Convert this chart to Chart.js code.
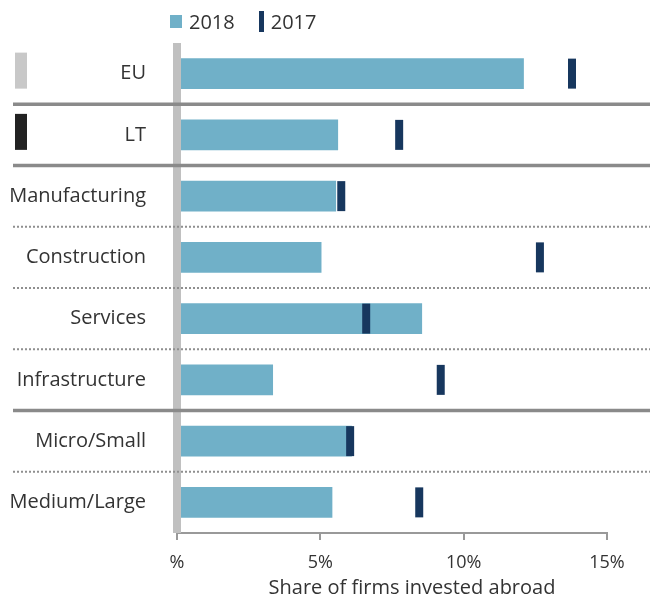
<!DOCTYPE html>
<html>
<head>
<meta charset="utf-8">
<script src="https://cdn.jsdelivr.net/npm/chart.js@4.4.1/dist/chart.umd.min.js"></script>
<style>
  html, body { margin: 0; padding: 0; background: #fff; }
  #wrap { position: relative; width: 650px; height: 601px; }
  #legend {
    position: absolute; top: 0; left: 0; height: 42px; padding-left: 170px;
    display: flex; align-items: center;
    font-family: 'Open Sans', sans-serif; font-size: 20px; color: #333;
  }
  .lg-item { display: flex; align-items: center; margin-right: 24px; }
  .lg-box { display: inline-block; margin-right: 7px; }
  #xtitle {
    position: absolute; top: 575px; left: 412px; transform: translateX(-50%);
    white-space: nowrap; line-height: 24px;
    font-family: 'Open Sans', sans-serif; font-size: 20px; color: #333;
  }
</style>
</head>
<body>
<div id="wrap">
  <div id="legend"></div>
  <canvas id="chart" width="650" height="601"></canvas>
  <div id="xtitle"></div>
</div>
<script>
// ── DATA ──────────────────────────────────────────────────────────────────────

var categories = ['EU', 'LT', 'Manufacturing', 'Construction', 'Services', 'Infrastructure', 'Micro/Small', 'Medium/Large'];
var share2018 = [12.1, 5.62, 5.55, 5.04, 8.55, 3.35, 6.1, 5.42];
var share2017 = [13.78, 7.75, 5.73, 12.66, 6.6, 9.2, 6.04, 8.45];
var xTickValues = [0, 5, 10, 15];
var xTickLabels = ['%', '5%', '10%', '15%'];
var xTitle = 'Share of firms invested abroad';

// separator below each row (last row has none)
var separators = ['solid', 'solid', 'dot', 'dot', 'dot', 'solid', 'dot'];
// little colour key left of the EU / LT rows
var rowKeys = ['#c8c8c8', '#222222', null, null, null, null, null, null];

var BAR_COLOR = '#70b0c8';
var MARK_COLOR = '#17375e';
var FONT = "'Open Sans', sans-serif";

// ── LEGEND + AXIS TITLE (html) ────────────────────────────────────────────────

var legendItems = [
  { label: '2018', w: 12, h: 13, color: BAR_COLOR },
  { label: '2017', w: 5, h: 21, color: MARK_COLOR },
];
document.getElementById('legend').innerHTML = legendItems.map(function(it) {
  return '<span class="lg-item"><span class="lg-box" style="width:' + it.w + 'px;height:' + it.h +
    'px;background:' + it.color + ';"></span>' + it.label + '</span>';
}).join('');
document.getElementById('xtitle').textContent = xTitle;

// ── EXTRA DRAWING: zero line, separators, row keys ────────────────────────────

var decorPlugin = {
  id: 'decor',
  afterDatasetsDraw: function(chart) {
    var ctx = chart.ctx;
    var area = chart.chartArea;
    var xs = chart.scales.x;
    var ys = chart.scales.y;
    ctx.save();

    // thick grey zero line
    var x0 = xs.getPixelForValue(0);
    ctx.fillStyle = '#c0c0c0';
    ctx.fillRect(x0 - 4, area.top, 8, area.bottom - area.top);

    // row separators
    separators.forEach(function(kind, i) {
      var y = (ys.getPixelForValue(i) + ys.getPixelForValue(i + 1)) / 2;
      ctx.beginPath();
      if (kind === 'solid') {
        ctx.strokeStyle = '#8a8a8a';
        ctx.lineWidth = 3.5;
        ctx.setLineDash([]);
      } else {
        ctx.strokeStyle = '#8f8f8f';
        ctx.lineWidth = 2;
        ctx.setLineDash([2, 2]);
      }
      ctx.moveTo(13, y);
      ctx.lineTo(chart.width, y);
      ctx.stroke();
    });

    // key blocks left of labels
    ctx.setLineDash([]);
    rowKeys.forEach(function(c, i) {
      if (!c) return;
      var yc = ys.getPixelForValue(i);
      ctx.fillStyle = c;
      ctx.fillRect(15, yc - 21, 12, 36);
    });
    ctx.restore();
  },
};

// ── CHART ─────────────────────────────────────────────────────────────────────

var chart = new Chart(document.getElementById('chart'), {
  data: {
    labels: categories,
    datasets: [
      {
        type: 'bar',
        label: '2018',
        data: share2018,
        backgroundColor: BAR_COLOR,
        barPercentage: 0.5,
        categoryPercentage: 1,
        order: 2,
      },
      {
        type: 'line',
        label: '2017',
        indexAxis: 'y',
        data: share2017,
        showLine: false,
        pointStyle: 'line',
        rotation: 90,
        pointRadius: 15,
        pointHoverRadius: 15,
        pointBorderWidth: 8,
        pointBorderColor: MARK_COLOR,
        pointBackgroundColor: MARK_COLOR,
        order: 1,
      },
    ],
  },
  options: {
    indexAxis: 'y',
    responsive: false,
    animation: false,
    layout: { padding: { left: 0, right: 43, top: 43, bottom: 0 } },
    plugins: {
      legend: { display: false },
      tooltip: { enabled: false },
    },
    scales: {
      x: {
        type: 'linear',
        min: 0,
        max: 15,
        afterBuildTicks: function(scale) {
          scale.ticks = xTickValues.map(function(v) { return { value: v }; });
        },
        afterFit: function(scale) { scale.height = 68; },
        ticks: {
          color: '#333',
          padding: 12,
          font: { family: FONT, size: 18 },
          callback: function(val) {
            var i = xTickValues.indexOf(val);
            return i >= 0 ? xTickLabels[i] : '';
          },
        },
        grid: {
          drawOnChartArea: false,
          drawTicks: true,
          tickLength: 7,
          color: '#999',
          lineWidth: 2,
        },
        border: { display: true, color: '#999', width: 2 },
      },
      y: {
        type: 'category',
        afterFit: function(scale) { scale.width = 177; },
        ticks: {
          color: '#333',
          padding: 31,
          font: { family: FONT, size: 20 },
        },
        grid: { display: false, drawTicks: false },
        border: { display: false },
      },
    },
  },
  plugins: [decorPlugin],
});
</script>
</body>
</html>
